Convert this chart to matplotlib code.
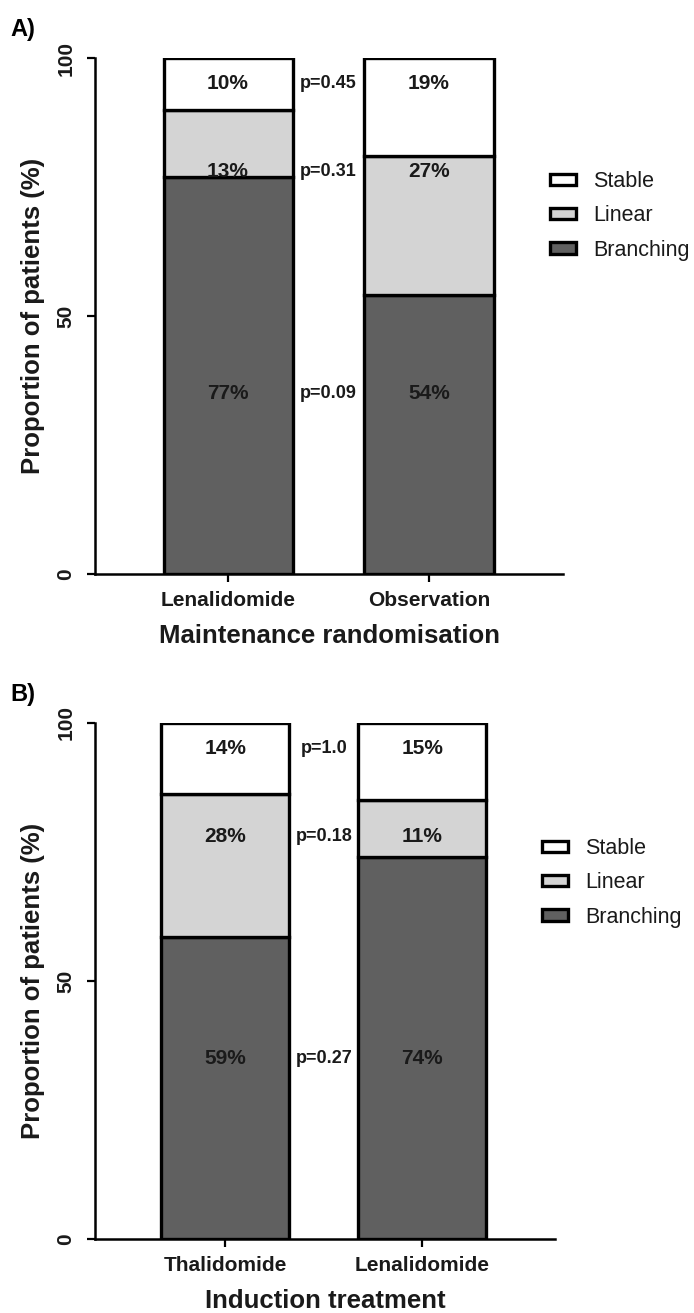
import numpy as np
import matplotlib
matplotlib.use("Agg")
import matplotlib.pyplot as plt
from matplotlib.patches import Patch

plt.rcParams['font.family'] = ['Liberation Sans', 'DejaVu Sans']

# data (percent of patients)
layers = ['Branching', 'Linear', 'Stable']
colours = ['#606060', '#d4d4d4', '#ffffff']

groups_a = ['Lenalidomide', 'Observation']
branching_a = [77, 54]
linear_a = [13, 27]
stable_a = [10, 19]
pvals_a = ['p=0.09', 'p=0.31', 'p=0.45']

groups_b = ['Thalidomide', 'Lenalidomide']
branching_b = [58.6, 74]
linear_b = [27.6, 11]
stable_b = [13.8, 15]
pvals_b = ['p=0.27', 'p=0.18', 'p=1.0']

label_y = [35, 78, 95]   # heights where the % labels and p-values sit

fig = plt.figure(figsize=(6.94, 13.13), dpi=100)


def panel(rect, groups, series, pvals, xlabel, tag, xmax, width, leg_xy):
    ax = fig.add_axes(rect)
    x = np.arange(len(groups))
    bottom = np.zeros(len(groups))
    for vals, col, name in zip(series, colours, layers):
        ax.bar(x, vals, width, bottom=bottom, color=col, edgecolor='black',
               linewidth=2.4, label=name, zorder=2)
        bottom += np.array(vals)
    for i in range(len(groups)):
        for vals, yy in zip(series, label_y):
            ax.text(x[i], yy, '%d%%' % round(vals[i]), ha='center', va='center',
                    fontsize=15, fontweight='bold', color='#1a1a1a', zorder=3)
    for p, yy in zip(pvals, label_y):
        ax.text(0.5, yy, p, ha='center', va='center', fontsize=13,
                fontweight='bold', color='#1a1a1a')
    ax.set_xlim(-0.662, xmax)
    ax.set_ylim(0, 100)
    ax.set_yticks([0, 50, 100])
    ax.set_yticklabels(['0', '50', '100'], rotation=90, va='center')
    ax.set_xticks(x)
    ax.set_xticklabels(groups)
    for lab in ax.get_xticklabels() + ax.get_yticklabels():
        lab.set_fontweight('bold')
        lab.set_fontsize(15)
        lab.set_color('#1a1a1a')
    ax.tick_params(axis='y', length=6, width=1.6, pad=8)
    ax.tick_params(axis='x', length=6, width=1.6, pad=6)
    for s in ['top', 'right']:
        ax.spines[s].set_visible(False)
    for s in ['left', 'bottom']:
        ax.spines[s].set_linewidth(1.8)
    ax.set_xlabel(xlabel, fontsize=18.5, fontweight='bold', labelpad=10, color='#1a1a1a')
    ax.set_ylabel('Proportion of patients (%)', fontsize=18.5, fontweight='bold',
                  labelpad=8, color='#1a1a1a')
    fig.text(0.015, rect[1] + rect[3] + 0.013, tag, fontsize=17, fontweight='bold',
             va='bottom')
    handles = [Patch(facecolor=c, edgecolor='black', linewidth=2.4, label=n)
               for n, c in zip(layers, colours)][::-1]
    fig.legend(handles=handles, loc='upper left', bbox_to_anchor=leg_xy,
               frameon=False, fontsize=15.5, handlelength=1.2, handleheight=0.45,
               handletextpad=0.8, labelspacing=0.62, borderpad=0, borderaxespad=0,
               labelcolor='#1a1a1a')
    return ax


panel([0.1369, 0.5628, 0.6744, 0.393], groups_a,
      [branching_a, linear_a, stable_a], pvals_a,
      'Maintenance randomisation', 'A)', 1.667, 0.642,
      (550 / 694, 1 - 171 / 1313))
panel([0.1369, 0.0564, 0.6628, 0.393], groups_b,
      [branching_b, linear_b, stable_b], pvals_b,
      'Induction treatment', 'B)', 1.673, 0.65,
      (542 / 694, 1 - 838 / 1313))

fig.savefig('out.png', dpi=100)
